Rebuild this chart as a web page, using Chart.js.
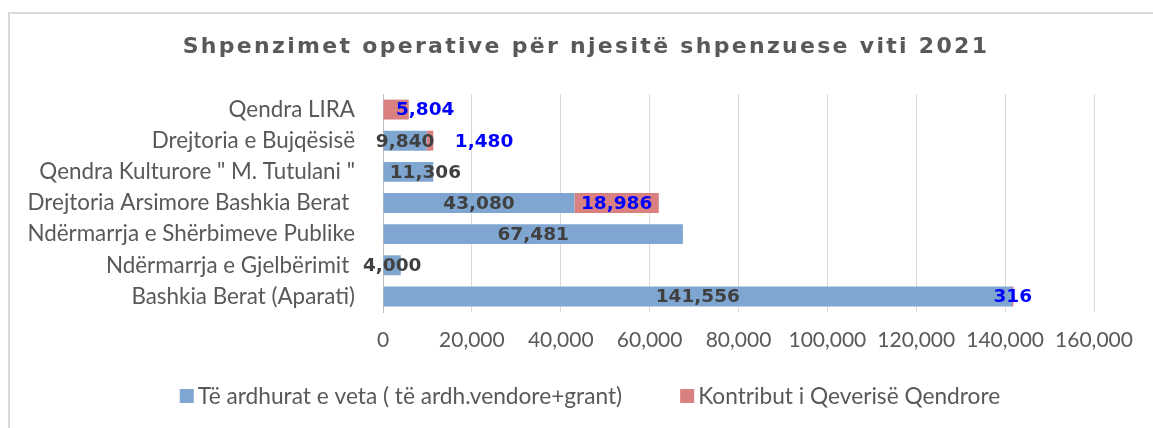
<!DOCTYPE html>
<html>
<head>
<meta charset="utf-8">
<script src="https://cdn.jsdelivr.net/npm/chart.js@4.4.1/dist/chart.umd.min.js"></script>
<style>
  html, body { margin: 0; padding: 0; background: #fff; }
  #frame {
    position: absolute; left: 8px; top: 12px; width: 1200px; height: 500px;
    border-left: 2px solid #d9d9d9; border-top: 2px solid #d9d9d9;
  }
  #priceChart { position: absolute; left: 0; top: 0; }
</style>
</head>
<body>
<div id="frame"></div>
<canvas id="priceChart" width="1153" height="428"></canvas>
<script>
const categories = [
    "Qendra LIRA",
    "Drejtoria e Bujqësisë",
    "Qendra Kulturore \" M. Tutulani \"",
    "Drejtoria Arsimore Bashkia Berat ",
    "Ndërmarrja e Shërbimeve Publike",
    "Ndërmarrja e Gjelbërimit ",
    "Bashkia Berat (Aparati)"
];
const ownRevenue = [0, 9840, 11306, 43080, 67481, 4000, 141556];
const centralContribution = [5804, 1480, 0, 18986, 0, 0, 316];
const xTicks = [0, 20000, 40000, 60000, 80000, 100000, 120000, 140000, 160000];

const seriesNames = ["Të ardhurat e veta ( të ardh.vendore+grant)", "Kontribut i Qeverisë Qendrore"];
const titleText = "Shpenzimet operative për njesitë shpenzuese viti 2021";

const blue = "#7fa6d1";
const red = "#d98080";

// Excel moved a few labels sideways to keep them from overlapping
const labelNudge = { "1-0": 29, "1-1": 54, "0-2": 17 };

const fmt = v => v.toLocaleString("en-US");

/* ---------------- PLUGINS ---------------- */

// Title drawn by hand so it can have letter spacing
const titlePlugin = {
    id: "customTitle",
    afterDraw(chart) {
        const ctx = chart.ctx;
        ctx.save();
        ctx.font = "bold 22px 'DejaVu Sans'";
        ctx.letterSpacing = "2.3px";
        ctx.fillStyle = "#595959";
        ctx.textAlign = "center";
        ctx.textBaseline = "middle";
        ctx.fillText(titleText, 586, 47);
        ctx.restore();
    }
};

// Value labels on each bar segment
const valueLabels = {
    id: "valueLabels",
    afterDatasetsDraw(chart) {
        const ctx = chart.ctx;
        ctx.save();
        ctx.font = "bold 18.5px 'DejaVu Sans'";
        ctx.textAlign = "center";
        ctx.textBaseline = "middle";
        chart.data.datasets.forEach((ds, di) => {
            const meta = chart.getDatasetMeta(di);
            meta.data.forEach((bar, i) => {
                const v = ds.data[i];
                if (!v) return;
                const cx = (bar.x + bar.base) / 2 + (labelNudge[di + "-" + i] || 0);
                ctx.fillStyle = di === 0 ? "#404040" : "#0000ff";
                ctx.fillText(fmt(v), cx, bar.y + 1);
            });
        });
        ctx.restore();
    }
};

// Legend at the bottom, Excel style
const legendPlugin = {
    id: "customLegend",
    afterDraw(chart) {
        const ctx = chart.ctx;
        const box = 14, gapText = 4, gapItem = 58, cy = 396, centerX = 590;
        ctx.save();
        ctx.font = "22.7px Lato";
        ctx.textBaseline = "middle";
        const items = chart.data.datasets.map(ds => ({
            text: ds.label,
            color: ds.backgroundColor,
            w: ctx.measureText(ds.label).width
        }));
        let total = items.reduce((s, it) => s + box + gapText + it.w, 0) + gapItem * (items.length - 1);
        let x = centerX - total / 2;
        items.forEach(it => {
            ctx.fillStyle = it.color;
            ctx.fillRect(x, cy - box / 2, box, box);
            ctx.fillStyle = "#595959";
            ctx.fillText(it.text, x + box + gapText, cy + 1);
            x += box + gapText + it.w + gapItem;
        });
        ctx.restore();
    }
};

/* ---------------- CHART ---------------- */

Chart.defaults.font.family = "Lato";
Chart.defaults.color = "#595959";

new Chart(document.getElementById("priceChart"), {
    type: "bar",
    data: {
        labels: categories,
        datasets: [
            { label: seriesNames[0], data: ownRevenue, backgroundColor: blue },
            { label: seriesNames[1], data: centralContribution, backgroundColor: red }
        ]
    },
    options: {
        indexAxis: "y",
        responsive: false,
        animation: false,
        devicePixelRatio: 1,
        locale: "en-US",
        layout: { padding: { top: 94, right: 59, bottom: 66, left: 0 } },
        datasets: { bar: { categoryPercentage: 1, barPercentage: 0.64 } },
        plugins: {
            legend: { display: false },
            title: { display: false },
            tooltip: { enabled: false }
        },
        scales: {
            x: {
                stacked: true,
                min: 0,
                max: 160000,
                afterBuildTicks: s => { s.ticks = xTicks.map(v => ({ value: v })); },
                ticks: { font: { size: 21 }, padding: 16, color: "#595959", callback: v => fmt(v) },
                grid: { color: "#d9d9d9", tickLength: 0 },
                border: { display: false },
                afterFit: s => { s.height = 50; }
            },
            y: {
                stacked: true,
                ticks: { font: { size: 22.4 }, padding: 28, color: "#595959" },
                grid: { display: false, tickLength: 0 },
                border: { color: "#bfbfbf", width: 1 },
                afterFit: s => { s.width = 383; }
            }
        }
    },
    plugins: [valueLabels, titlePlugin, legendPlugin]
});
</script>
</body>
</html>
